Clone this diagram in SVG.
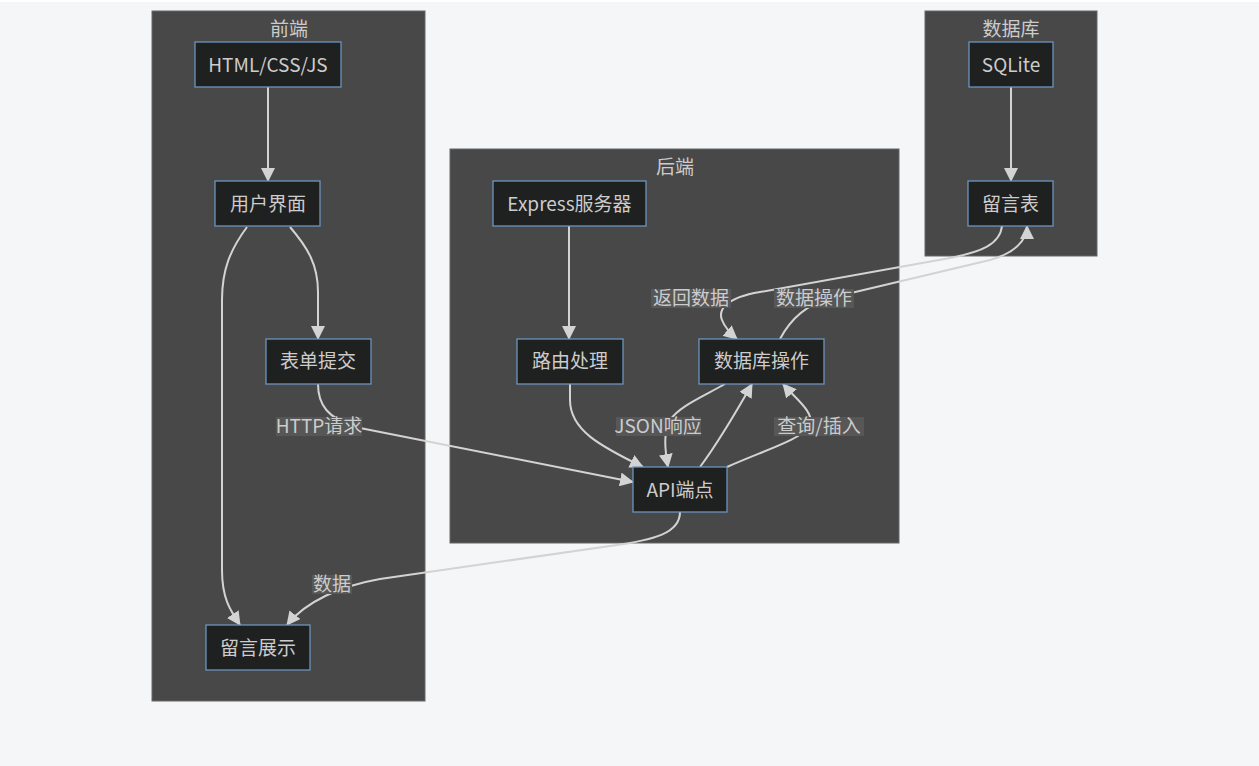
<svg xmlns="http://www.w3.org/2000/svg" width="1259" height="766" viewBox="0 0 1259 766">
<defs>
<marker id="arr" viewBox="0 0 14 14" refX="13" refY="7" markerWidth="14" markerHeight="14" markerUnits="userSpaceOnUse" orient="auto">
<path d="M0,0 L14,7 L0,14 z" fill="#d3d3d3"/>
</marker>
<style>
.cluster{fill:#484848;stroke:#666;stroke-width:1}
.node rect{fill:#1f2020;stroke:#6c94bd;stroke-width:1.3}
text{font-family:"Noto Sans CJK SC","Noto Sans",sans-serif;font-size:19px;fill:#cccccc;text-anchor:middle;dominant-baseline:central}
.edge{fill:none;stroke:#d3d3d3;stroke-width:2;marker-end:url(#arr)}
.lbg{fill:#575757}
</style>
</defs>
<rect x="0" y="0" width="1259" height="766" fill="#f5f6f8"/>
<rect x="0" y="0" width="1259" height="2" fill="#ffffff"/>

<g id="cluster-frontend">
<rect class="cluster" x="152" y="11" width="273" height="690"/>
<text x="289" y="27">前端</text>
</g>
<g id="cluster-backend">
<rect class="cluster" x="450" y="149" width="449" height="394"/>
<text x="675" y="165">后端</text>
</g>
<g id="cluster-db">
<rect class="cluster" x="925" y="11" width="172" height="245"/>
<text x="1011" y="27">数据库</text>
</g>

<g id="connectors">
<path class="edge" d="M268,87 L268,181"/>
<path class="edge" d="M290,227 C308,248 318,265 318,292 L318,339"/>
<path class="edge" d="M247,227 C230,250 222,270 222,300 L222,570 C222,598 230,610 240,625"/>
<path class="edge" d="M318,384 C318,405 328,418 355,427 L633,482"/>
<path class="edge" d="M680,512 C680,533 655,540 610,546 L380,579 C340,586 305,602 287,625"/>
<path class="edge" d="M569,226 L569,339"/>
<path class="edge" d="M570,384 L570,400 C570,430 600,446 643,467"/>
<path class="edge" d="M725,384 C700,398 680,406 670,420 C663,432 665,450 668,467"/>
<path class="edge" d="M700,467 C720,440 735,414 752,384"/>
<path class="edge" d="M727,467 C765,450 800,440 810,426 C815,412 795,398 783,384"/>
<path class="edge" d="M780,339 C790,320 805,305 830,298 L990,260 C1015,253 1027,240 1027,226"/>
<path class="edge" d="M1002,226 C1000,245 980,252 950,258 L760,292 C725,298 718,310 722,320 C725,328 730,333 737,339"/>
<path class="edge" d="M1011,87 L1011,181"/>
</g>

<g id="edge-labels">
<rect class="lbg" x="276" y="417" width="86" height="19"/><text x="319" y="424">HTTP请求</text>
<rect class="lbg" x="616" y="417" width="85" height="19"/><text x="658" y="424">JSON响应</text>
<rect class="lbg" x="774" y="417" width="90" height="19"/><text x="819" y="424">查询/插入</text>
<rect class="lbg" x="651" y="289" width="80" height="19"/><text x="691" y="296">返回数据</text>
<rect class="lbg" x="774" y="289" width="80" height="19"/><text x="814" y="296">数据操作</text>
<rect class="lbg" x="312" y="575" width="40" height="19"/><text x="332" y="582">数据</text>
</g>

<g id="node-html" class="node"><rect x="195" y="42" width="146" height="45"/><text x="268" y="63">HTML/CSS/JS</text></g>
<g id="node-ui" class="node"><rect x="215" y="181" width="105" height="45"/><text x="268" y="202">用户界面</text></g>
<g id="node-form" class="node"><rect x="266" y="339" width="105" height="45"/><text x="318" y="359">表单提交</text></g>
<g id="node-display" class="node"><rect x="206" y="625" width="104" height="45"/><text x="258" y="646">留言展示</text></g>
<g id="node-express" class="node"><rect x="493" y="181" width="153" height="45"/><text x="569.5" y="202">Express服务器</text></g>
<g id="node-route" class="node"><rect x="517" y="339" width="106" height="45"/><text x="570" y="359">路由处理</text></g>
<g id="node-dbop" class="node"><rect x="699" y="339" width="125" height="45"/><text x="761.5" y="359">数据库操作</text></g>
<g id="node-api" class="node"><rect x="633" y="467" width="94" height="45"/><text x="680" y="488">API端点</text></g>
<g id="node-sqlite" class="node"><rect x="969" y="42" width="84" height="45"/><text x="1011" y="63">SQLite</text></g>
<g id="node-table" class="node"><rect x="968" y="181" width="85" height="45"/><text x="1010.5" y="202">留言表</text></g>
</svg>
